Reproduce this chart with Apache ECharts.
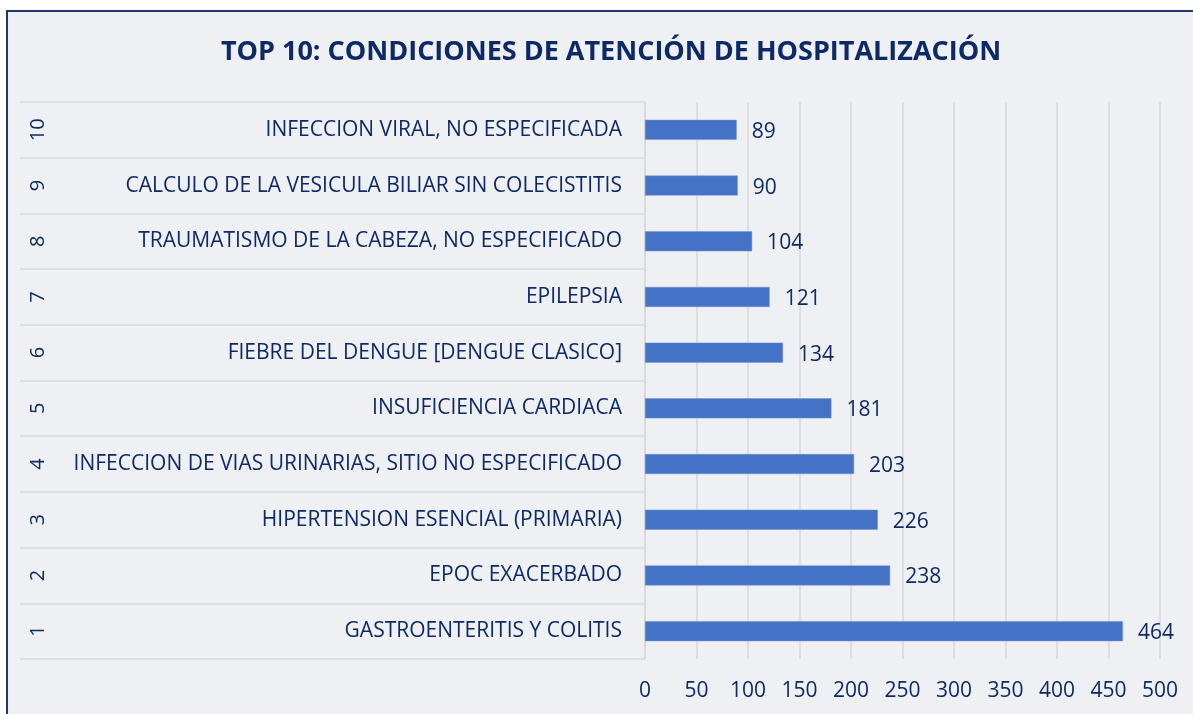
<!DOCTYPE html>
<html>
<head>
<meta charset="utf-8">
<script src="https://cdn.jsdelivr.net/npm/echarts@6/dist/echarts.min.js"></script>
<style>
  html, body { margin: 0; padding: 0; background: #fff; }
  #chart { width: 1193px; height: 714px; }
</style>
</head>
<body>
<div id="chart"></div>
<script>
// data, bottom row first (rank 1 at the bottom)
const ranks = ['1', '2', '3', '4', '5', '6', '7', '8', '9', '10'];
const conditions = [
  'GASTROENTERITIS Y COLITIS',
  'EPOC EXACERBADO',
  'HIPERTENSION ESENCIAL (PRIMARIA)',
  'INFECCION DE VIAS URINARIAS, SITIO NO ESPECIFICADO',
  'INSUFICIENCIA CARDIACA',
  'FIEBRE DEL DENGUE [DENGUE CLASICO]',
  'EPILEPSIA',
  'TRAUMATISMO DE LA CABEZA, NO ESPECIFICADO',
  'CALCULO DE LA VESICULA BILIAR SIN COLECISTITIS',
  'INFECCION VIRAL, NO ESPECIFICADA'
];
const cases = [464, 238, 226, 203, 181, 134, 121, 104, 90, 89];

const navy = '#0E2A66';
const gridGray = '#D9D9D9';
const font = 'Open Sans';

const chart = echarts.init(document.getElementById('chart'));

chart.setOption({
  backgroundColor: '#fff',
  animation: false,
  textStyle: { fontFamily: font },
  graphic: [{
    type: 'rect',
    z: -10,
    shape: { x: 7, y: 11, width: 1200, height: 720 },
    style: { fill: '#EEF0F4', stroke: '#1F3869', lineWidth: 2 }
  }],
  title: {
    text: 'TOP 10: CONDICIONES DE ATENCIÓN DE HOSPITALIZACIÓN',
    left: 606,
    textAlign: 'center',
    top: 34,
    textStyle: { color: navy, fontSize: 27, fontWeight: 'bold', fontFamily: font }
  },
  grid: [
    { left: 645, right: 33, top: 102, bottom: 55 },
    { left: 20, right: 548, top: 102, bottom: 55 }
  ],
  xAxis: [
    {
      gridIndex: 0,
      type: 'value',
      min: 0,
      max: 500,
      interval: 50,
      axisLine: { show: false },
      axisTick: { show: false },
      axisLabel: { color: navy, fontSize: 21, margin: 22 },
      splitLine: { lineStyle: { color: gridGray, width: 1.5 } }
    },
    { gridIndex: 1, type: 'value', show: false }
  ],
  yAxis: [
    {
      gridIndex: 0,
      type: 'category',
      data: conditions,
      axisLine: { show: true, lineStyle: { color: gridGray, width: 1.5 } },
      axisTick: { show: false },
      axisLabel: { color: navy, fontSize: 21, margin: 23, padding: [4, 0, 0, 0] },
      splitLine: { show: false }
    },
    {
      gridIndex: 1,
      type: 'category',
      data: ranks,
      axisLine: { show: false },
      axisTick: { show: false },
      axisLabel: { inside: true, rotate: 90, color: navy, fontSize: 20, margin: 8 },
      splitLine: { show: true, lineStyle: { color: gridGray, width: 1.5 } }
    }
  ],
  series: [{
    type: 'bar',
    xAxisIndex: 0,
    yAxisIndex: 0,
    data: cases,
    barWidth: 20,
    itemStyle: { color: '#4472C4', borderColor: '#6F93D4', borderWidth: 0.5 },
    label: {
      show: true,
      position: 'right',
      distance: 15,
      offset: [0, 2],
      color: navy,
      fontSize: 21
    }
  }]
});
</script>
</body>
</html>
